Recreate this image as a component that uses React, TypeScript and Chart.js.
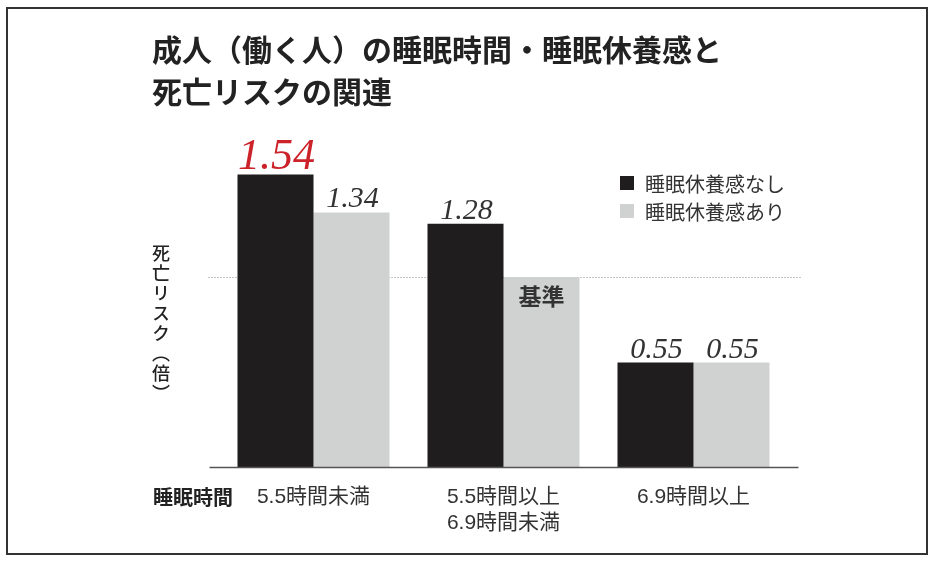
import React, { useEffect, useRef } from "react";
import { Chart, registerables } from "chart.js";

Chart.register(...registerables);

const titleLines = ["成人（働く人）の睡眠時間・睡眠休養感と", "死亡リスクの関連"];
const categories: string[][] = [["5.5時間未満"], ["5.5時間以上", "6.9時間未満"], ["6.9時間以上"]];
const seriesNames = ["睡眠休養感なし", "睡眠休養感あり"];
const noRestValues = [1.54, 1.28, 0.55];
const restValues = [1.34, 1.0, 0.55];
const referenceValue = 1.0;
const referenceLabel = "基準";
const xAxisTitle = "睡眠時間";
const yAxisTitle = "死亡リスク（倍）";

const BLACK = "#1f1d1d";
const GRAY = "#d0d1d1";
const RED = "#cc2229";
const TEXT = "#333333";
const JP = '"Liberation Sans", "Noto Sans CJK JP", sans-serif';

const annotate = {
  id: "annotate",
  beforeDatasetsDraw(chart: any) {
    const { ctx, chartArea, scales } = chart;
    const y = Math.round(scales.y.getPixelForValue(referenceValue)) + 0.5;
    ctx.save();
    ctx.strokeStyle = "#8a8a8a";
    ctx.lineWidth = 1;
    ctx.setLineDash([1, 2]);
    ctx.beginPath();
    ctx.moveTo(chartArea.left - 10, y);
    ctx.lineTo(chartArea.right + 12, y);
    ctx.stroke();
    ctx.restore();
  },
  afterDatasetsDraw(chart: any) {
    const { ctx, chartArea, scales } = chart;
    ctx.save();
    // baseline
    ctx.strokeStyle = "#555555";
    ctx.lineWidth = 1.5;
    ctx.beginPath();
    ctx.moveTo(chartArea.left - 9, chartArea.bottom + 0.5);
    ctx.lineTo(chartArea.right + 10, chartArea.bottom + 0.5);
    ctx.stroke();

    // value labels
    const maxVal = Math.max(...noRestValues, ...restValues);
    chart.data.datasets.forEach((ds: any, di: number) => {
      const meta = chart.getDatasetMeta(di);
      meta.data.forEach((bar: any, i: number) => {
        const v = ds.data[i];
        if (v === referenceValue) {
          ctx.fillStyle = TEXT;
          ctx.font = 'bold 23px "Noto Sans CJK JP", sans-serif';
          ctx.textAlign = "center";
          ctx.textBaseline = "middle";
          ctx.fillText(referenceLabel, bar.x, bar.y + 19);
          return;
        }
        const isMax = v === maxVal;
        ctx.fillStyle = isMax ? RED : TEXT;
        ctx.font = isMax ? 'italic 44px "Liberation Serif", serif' : 'italic 30px "Liberation Serif", serif';
        ctx.textAlign = "center";
        ctx.textBaseline = "alphabetic";
        ctx.fillText(v.toFixed(2), bar.x + 1, bar.y - 5);
      });
    });

    // category labels
    ctx.fillStyle = TEXT;
    ctx.font = `21px ${JP}`;
    ctx.textAlign = "center";
    ctx.textBaseline = "middle";
    categories.forEach((lines, i) => {
      const x = scales.x.getPixelForValue(i);
      lines.forEach((line, li) => {
        ctx.fillText(line, x, chartArea.bottom + 30 + li * 26);
      });
    });
    ctx.font = 'bold 20px "Noto Sans CJK JP", sans-serif';
    ctx.fillStyle = "#222222";
    ctx.textAlign = "left";
    ctx.fillText(xAxisTitle, 153, chartArea.bottom + 30);
    ctx.restore();
  },
};

export default function App() {
  const ref = useRef<HTMLCanvasElement | null>(null);
  useEffect(() => {
    if (!ref.current) return;
    const chart = new Chart(ref.current, {
      type: "bar",
      data: {
        labels: categories.map((c) => c.join("")),
        datasets: [
          { label: seriesNames[0], data: noRestValues, backgroundColor: BLACK, categoryPercentage: 0.8, barPercentage: 1.0 },
          { label: seriesNames[1], data: restValues, backgroundColor: GRAY, categoryPercentage: 0.8, barPercentage: 1.0 },
        ],
      },
      options: {
        responsive: false,
        animation: false,
        devicePixelRatio: 1,
        layout: { padding: { left: 218.5, right: 145.5, top: 163, bottom: 94 } },
        plugins: { legend: { display: false }, tooltip: { enabled: false }, title: { display: false } },
        scales: {
          x: { display: false },
          y: { display: false, min: 0, max: 1.6 },
        },
      },
      plugins: [annotate],
    });
    return () => chart.destroy();
  }, []);

  return (
    <div style={{ position: "absolute", left: 0, top: 0, width: 934, height: 561, background: "#fff", overflow: "hidden" }}>
      <canvas ref={ref} width={934} height={561} style={{ position: "absolute", left: 0, top: 0, width: 934, height: 561 }} />
      <div style={{ position: "absolute", left: 6, top: 7, width: 918, height: 544, border: "2px solid #333", pointerEvents: "none" }} />
      <div style={{ position: "absolute", left: 152, top: 27, fontFamily: '"Noto Sans CJK JP", sans-serif', fontWeight: 700, fontSize: 30, lineHeight: "42px", color: "#222", whiteSpace: "nowrap" }}>
        {titleLines.map((t, i) => (
          <div key={i}>{t}</div>
        ))}
      </div>
      <div style={{ position: "absolute", left: 151, top: 244, writingMode: "vertical-rl", fontFamily: '"Noto Sans CJK JP", sans-serif', fontWeight: 500, fontSize: 18, lineHeight: "20px", letterSpacing: "2px", color: "#222", whiteSpace: "nowrap" }}>
        {yAxisTitle}
      </div>
      {seriesNames.map((name, i) => (
        <div key={name} style={{ position: "absolute", left: 620, top: 170 + i * 28, height: 26, display: "flex", alignItems: "center", fontFamily: JP, fontSize: 20, color: TEXT, whiteSpace: "nowrap" }}>
          <span style={{ display: "inline-block", width: 14, height: 14, background: i === 0 ? BLACK : GRAY, marginRight: 11 }} />
          {name}
        </div>
      ))}
    </div>
  );
}
